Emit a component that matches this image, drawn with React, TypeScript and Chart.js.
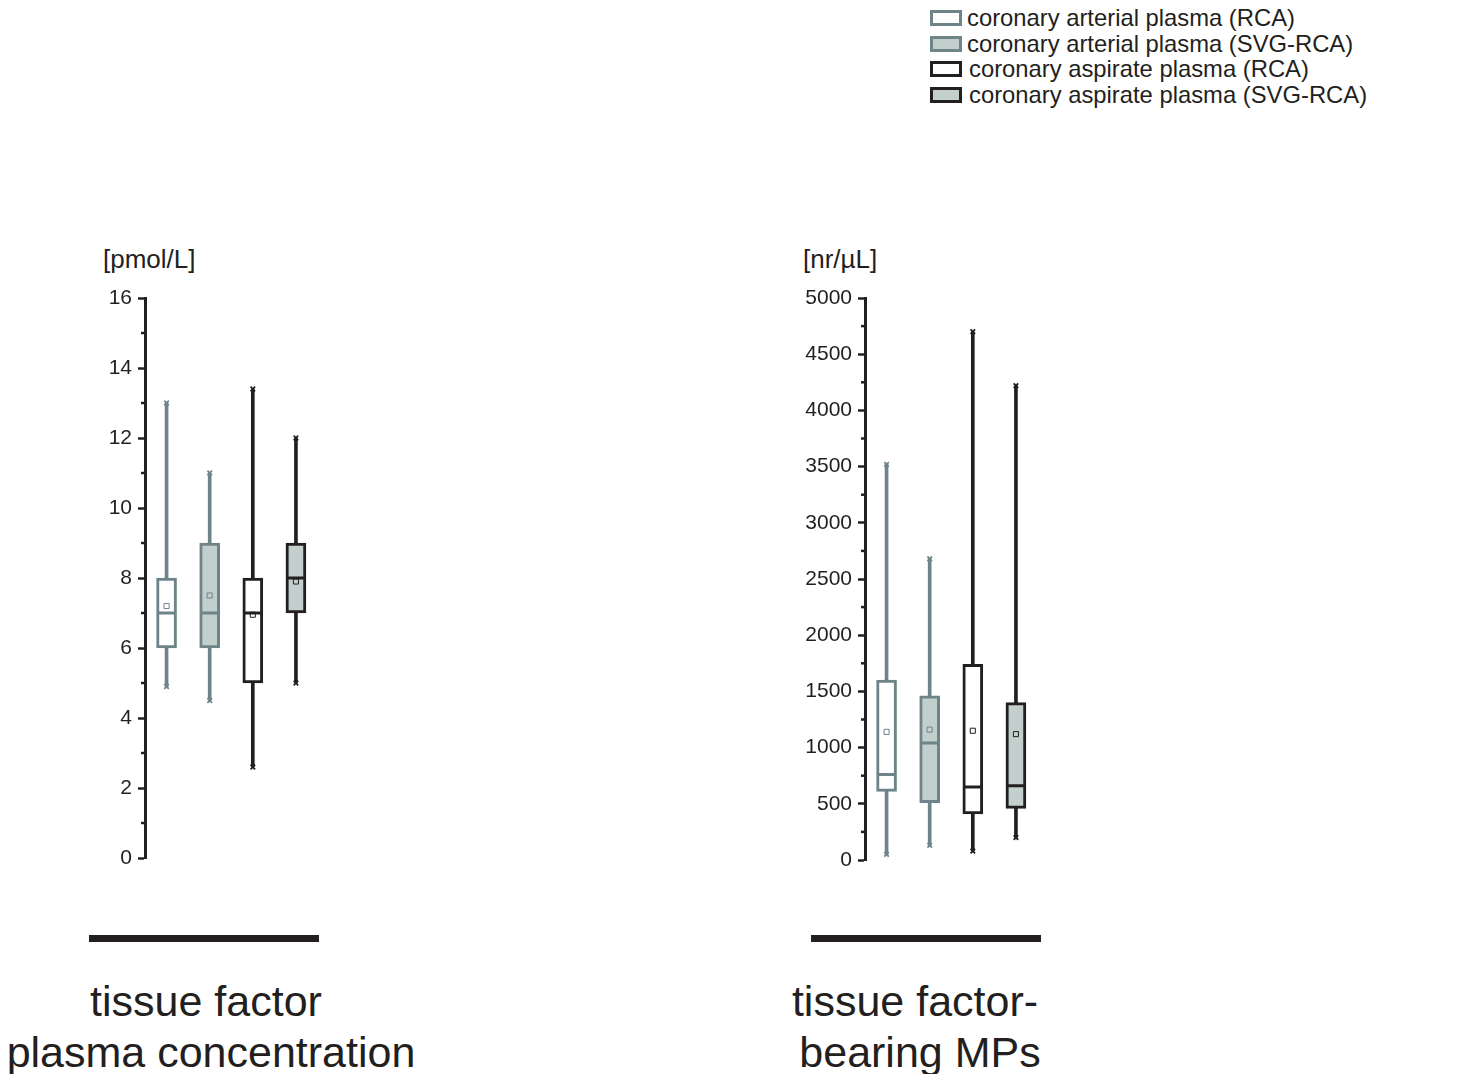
import React, { useEffect, useRef } from 'react';
import { Chart, registerables } from 'chart.js';

Chart.register(...registerables);

// ---- data ----
const groups = [
  'coronary arterial plasma (RCA)',
  'coronary arterial plasma (SVG-RCA)',
  'coronary aspirate plasma (RCA)',
  'coronary aspirate plasma (SVG-RCA)',
];

// tissue factor plasma concentration [pmol/L]
const tfMin = [4.9, 4.5, 2.6, 5.0];
const tfQ1 = [6.0, 6.0, 5.0, 7.0];
const tfMedian = [7.0, 7.0, 7.0, 8.0];
const tfQ3 = [8.0, 9.0, 8.0, 9.0];
const tfMax = [13.0, 11.0, 13.4, 12.0];
const tfMean = [7.2, 7.5, 6.95, 7.9];
const tfTicks = [0, 2, 4, 6, 8, 10, 12, 14, 16];

// tissue factor-bearing MPs [nr/µL]
const mpMin = [50, 130, 80, 200];
const mpQ1 = [610, 510, 410, 460];
const mpMedian = [760, 1040, 650, 660];
const mpQ3 = [1600, 1460, 1740, 1400];
const mpMax = [3520, 2680, 4700, 4220];
const mpMean = [1140, 1160, 1150, 1120];
const mpTicks = [0, 500, 1000, 1500, 2000, 2500, 3000, 3500, 4000, 4500, 5000];

// ---- styles ----
const GRAY = '#6f8489';
const BLACK = '#231f20';
const FILL = '#c2cfcd';
const strokeColors = [GRAY, GRAY, BLACK, BLACK];
const fillColors = ['#ffffff', FILL, '#ffffff', FILL];
const FONT = '"Liberation Sans", Arial, Helvetica, sans-serif';

type Stats = { min: number[]; q1: number[]; median: number[]; q3: number[]; max: number[]; mean: number[] };

const minorTicks = {
  id: 'minorTicks',
  afterDraw(chart: any) {
    const s = chart.scales.y;
    const ticks: number[] = chart.options.plugins.minorTicks.ticks;
    const ctx = chart.ctx;
    ctx.save();
    ctx.strokeStyle = BLACK;
    ctx.lineWidth = 2.5;
    for (let i = 0; i < ticks.length - 1; i++) {
      const v = (ticks[i] + ticks[i + 1]) / 2;
      const y = s.getPixelForValue(v);
      ctx.beginPath();
      ctx.moveTo(s.right - 4, y);
      ctx.lineTo(s.right, y);
      ctx.stroke();
    }
    ctx.restore();
  },
};

function BoxChart(props: { stats: Stats; ticks: number[]; left: number; top: number; bottomPad: number }) {
  const ref = useRef<HTMLCanvasElement>(null);
  const { stats, ticks } = props;
  useEffect(() => {
    const pointBase = { type: 'line' as const, showLine: false, pointHoverRadius: 0 };
    const chart = new Chart(ref.current as HTMLCanvasElement, {
      type: 'bar',
      data: {
        labels: groups,
        datasets: [
          {
            ...pointBase,
            data: stats.mean,
            pointStyle: 'rect',
            pointRadius: 3.6,
            pointBorderWidth: 1,
            pointBorderColor: strokeColors,
            pointBackgroundColor: 'rgba(0,0,0,0)',
          } as any,
          {
            ...pointBase,
            data: stats.median,
            pointStyle: 'line',
            pointRadius: 9.5,
            pointBorderWidth: 3,
            pointBorderColor: strokeColors,
          } as any,
          {
            ...pointBase,
            data: stats.max,
            pointStyle: 'crossRot',
            pointRadius: 3.2,
            pointBorderWidth: 1.8,
            pointBorderColor: strokeColors,
          } as any,
          {
            ...pointBase,
            data: stats.min,
            pointStyle: 'crossRot',
            pointRadius: 3.2,
            pointBorderWidth: 1.8,
            pointBorderColor: strokeColors,
          } as any,
          {
            type: 'bar',
            data: stats.q1.map((q, i) => [q, stats.q3[i]]),
            backgroundColor: fillColors,
            borderColor: strokeColors,
            borderWidth: 3,
            borderSkipped: false,
            barThickness: 20,
            grouped: false,
          } as any,
          {
            type: 'bar',
            data: stats.min.map((m, i) => [m, stats.max[i]]),
            backgroundColor: strokeColors,
            borderWidth: 0,
            barThickness: 3,
            grouped: false,
          } as any,
        ],
      },
      options: {
        responsive: false,
        animation: false,
        events: [],
        layout: { padding: { left: 25, right: 12.5, top: 28, bottom: props.bottomPad } },
        plugins: {
          legend: { display: false },
          tooltip: { enabled: false },
          minorTicks: { ticks },
        } as any,
        scales: {
          x: { display: false, offset: true },
          y: {
            min: ticks[0],
            max: ticks[ticks.length - 1],
            afterFit: (s: any) => {
              s.width = 60;
            },
            afterBuildTicks: (s: any) => {
              s.ticks = ticks.map((v) => ({ value: v }));
            },
            ticks: {
              font: { family: FONT, size: 21 },
              color: BLACK,
              padding: 6,
              callback: (v: any) => String(v),
            },
            grid: { drawOnChartArea: false, drawTicks: true, tickLength: 7, tickWidth: 2.5, tickColor: BLACK },
            border: { display: true, width: 3, color: BLACK },
          },
        },
      },
      plugins: [minorTicks],
    } as any);
    return () => chart.destroy();
  }, []);
  return (
    <canvas
      ref={ref}
      width={270}
      height={620}
      style={{ position: 'absolute', left: props.left, top: props.top, width: 270, height: 620 }}
    />
  );
}

const text = (s: string, cx: number, cy: number, size: number) => (
  <div
    key={s}
    style={{
      position: 'absolute',
      left: cx - 300,
      width: 600,
      top: cy - size,
      height: size * 2,
      lineHeight: `${size * 2}px`,
      fontSize: size,
      fontFamily: FONT,
      color: BLACK,
      textAlign: 'center',
      whiteSpace: 'nowrap',
    }}
  >
    {s}
  </div>
);

export default function App() {
  const tfStats: Stats = { min: tfMin, q1: tfQ1, median: tfMedian, q3: tfQ3, max: tfMax, mean: tfMean };
  const mpStats: Stats = { min: mpMin, q1: mpQ1, median: mpMedian, q3: mpQ3, max: mpMax, mean: mpMean };
  return (
    <div
      style={{
        position: 'absolute',
        left: 0,
        top: 0,
        width: 1459,
        height: 1074,
        overflow: 'hidden',
        background: '#ffffff',
      }}
    >
      {/* legend */}
      {groups.map((g, i) => (
        <div
          key={g}
          style={{
            position: 'absolute',
            left: 930,
            top: 5 + i * 25.7,
            height: 26,
            display: 'flex',
            alignItems: 'center',
            fontFamily: FONT,
            fontSize: 23.8,
            color: BLACK,
            whiteSpace: 'nowrap',
          }}
        >
          <span
            style={{
              display: 'inline-block',
              boxSizing: 'border-box',
              width: 32,
              height: 16,
              border: `3px solid ${strokeColors[i]}`,
              background: fillColors[i],
              marginRight: i < 2 ? 5 : 7,
            }}
          />
          <span>{g}</span>
        </div>
      ))}

      {/* unit labels */}
      <div style={{ position: 'absolute', left: 103, top: 244, fontFamily: FONT, fontSize: 26, lineHeight: '30px', color: BLACK }}>
        [pmol/L]
      </div>
      <div style={{ position: 'absolute', left: 803, top: 244, fontFamily: FONT, fontSize: 26, lineHeight: '30px', color: BLACK }}>
        [nr/µL]
      </div>

      <BoxChart stats={tfStats} ticks={tfTicks} left={60} top={270} bottomPad={32} />
      <BoxChart stats={mpStats} ticks={mpTicks} left={780} top={270} bottomPad={30} />

      {/* group bars */}
      <div style={{ position: 'absolute', left: 89, top: 934.5, width: 230, height: 7, background: BLACK }} />
      <div style={{ position: 'absolute', left: 811, top: 934.5, width: 230, height: 7, background: BLACK }} />

      {text('tissue factor', 206, 1001, 43)}
      {text('plasma concentration', 211, 1052, 43)}
      {text('tissue factor-', 915, 1001, 43)}
      {text('bearing MPs', 920, 1052, 43)}
    </div>
  );
}
